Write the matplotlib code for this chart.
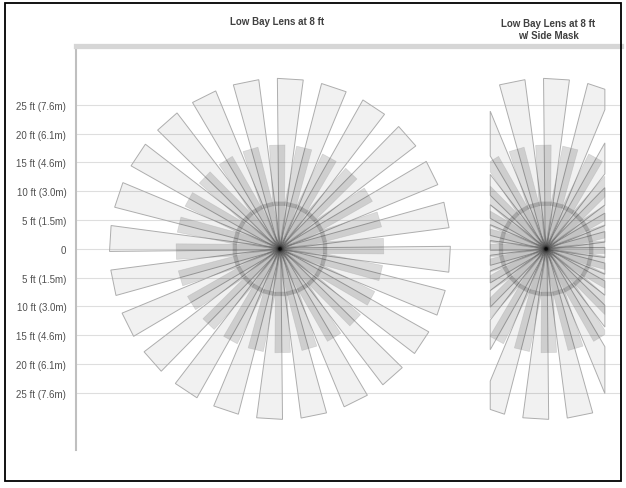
import numpy as np
import matplotlib
matplotlib.use("Agg")
import matplotlib.pyplot as plt
from matplotlib.patches import Polygon, Rectangle

plt.rcParams['font.family'] = ['Liberation Sans', 'DejaVu Sans']

# ---------------- data ----------------
panel_titles = ["Low Bay Lens at 8 ft", "Low Bay Lens at 8 ft\nw/ Side Mask"]
beam_angles = list(range(0, 360, 15))            # 24 beams, degrees
outer_lengths = [29.5] * 24                      # ft
middle_lengths = [18.0] * 24                     # ft
inner_lengths = [8.2] * 24                       # ft
ytick_values = [25, 20, 15, 10, 5, 0, -5, -10, -15, -20, -25]
ytick_labels = ["25 ft (7.6m)", "20 ft (6.1m)", "15 ft (4.6m)", "10 ft (3.0m)",
                "5 ft (1.5m)", "0", "5 ft (1.5m)", "10 ft (3.0m)",
                "15 ft (4.6m)", "20 ft (6.1m)", "25 ft (7.6m)"]
panel_centers = [0.0, 46.2]                      # ft
mask_limits = (-9.7, 10.2)                       # side mask, ft from centre

# ---------------- helpers ----------------
def beam_poly(cx, cy, ang, r0, length, w0, w1, rot):
    t = np.deg2rad(ang + rot)
    d = np.array([np.cos(t), np.sin(t)])
    n = np.array([-np.sin(t), np.cos(t)])
    c = np.array([cx, cy])
    p0 = c + r0 * d
    p1 = c + length * d
    return np.array([p0 + w0 / 2 * n, p1 + w1 / 2 * n,
                     p1 - w1 / 2 * n, p0 - w0 / 2 * n])

def clip_half(poly, xv, keep_less):
    out = []
    m = len(poly)
    for i in range(m):
        a, b = poly[i], poly[(i + 1) % m]
        ina = a[0] <= xv if keep_less else a[0] >= xv
        inb = b[0] <= xv if keep_less else b[0] >= xv
        if ina:
            out.append(a)
        if ina != inb:
            tt = (xv - a[0]) / (b[0] - a[0])
            out.append(a + tt * (b - a))
    return np.array(out)

# ---------------- figure ----------------
fig = plt.figure(figsize=(6.26, 4.89), dpi=100)
ax = fig.add_axes([76 / 626, 1 - 451 / 489, 545 / 626, 404 / 489])
ax.set_xlim(-35.4, 59.2)
ax.set_ylim(-34.9, 35.2)

for yv in ytick_values:
    ax.axhline(yv, color="#dedede", lw=0.8, zorder=0)

layers = [
    # lengths, r0, w0, w1, rotation, face, edge, lw
    (outer_lengths, 0.0, 0.3, 4.5, -3.5, (0, 0, 0, 0.055), "#adadad", 0.7),
    (middle_lengths, 7.5, 2.0, 2.7, 1.5, (0, 0, 0, 0.14), (0.6, 0.6, 0.6, 0.3), 0.5),
    (inner_lengths, 0.0, 0.5, 2.0, 0.0, (0, 0, 0, 0.19), "none", 0.0),
]

for pi, cx in enumerate(panel_centers):
    cy = 0.0
    for lengths, r0, w0, w1, rot, fc, ec, lw in layers:
        for ang, L in zip(beam_angles, lengths):
            poly = beam_poly(cx, cy, ang, r0, L, w0, w1, rot)
            if pi == 1:
                poly = clip_half(poly, cx + mask_limits[0], keep_less=False)
                if len(poly) < 3:
                    continue
                poly = clip_half(poly, cx + mask_limits[1], keep_less=True)
                if len(poly) < 3:
                    continue
            ax.add_patch(Polygon(poly, closed=True, facecolor=fc,
                                 edgecolor=ec, lw=lw, zorder=2))

# titles (figure coordinates)
fig.text(277 / 626, 1 - 22 / 489, panel_titles[0], ha="center", va="center",
         fontsize=7, fontweight="bold", color="#404040")
fig.text(548 / 626, 1 - 30 / 489, panel_titles[1], ha="center", va="center",
         fontsize=7, fontweight="bold", color="#404040", linespacing=1.25)

ax.set_yticks(ytick_values)
ax.set_yticklabels(ytick_labels, fontsize=7, color="#505050")
ax.tick_params(axis="y", length=0, pad=7)
ax.set_xticks([])

for s in ["right", "bottom"]:
    ax.spines[s].set_visible(False)
ax.spines["top"].set_color("#d6d6d6")
ax.spines["top"].set_linewidth(3.8)
ax.spines["left"].set_color("#bfbfbf")
ax.spines["left"].set_linewidth(1.5)

# outer frame
fig.patches.append(Rectangle((5 / 626, 1 - 482 / 489), 616 / 626, 478 / 489,
                             transform=fig.transFigure, fill=False,
                             edgecolor="black", lw=1.3))

fig.savefig("out.png", dpi=100, facecolor="white")
